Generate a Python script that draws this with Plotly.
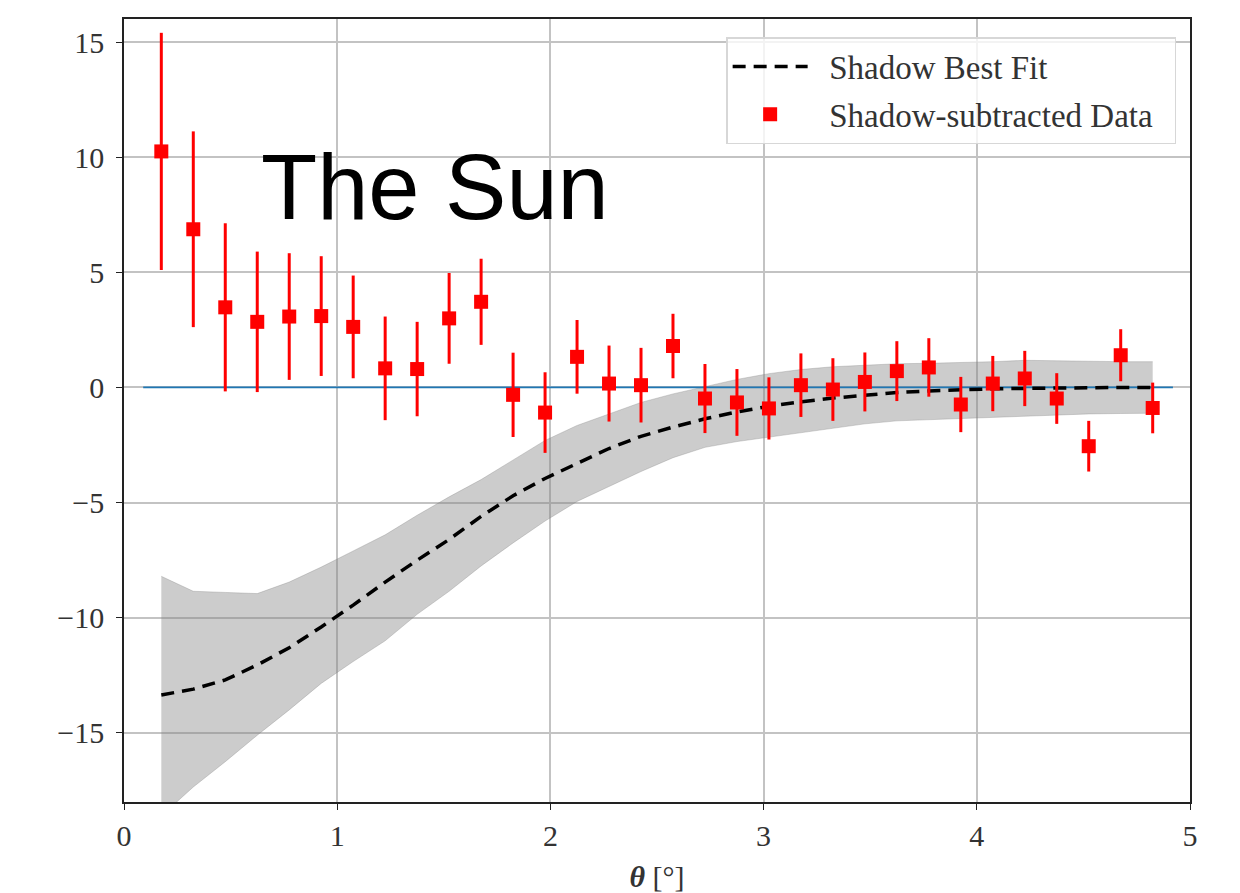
import plotly.graph_objects as go

# Bin centres (degrees)
theta = [0.175, 0.325, 0.475, 0.625, 0.775, 0.925, 1.075, 1.225, 1.375, 1.525,
         1.675, 1.825, 1.975, 2.125, 2.275, 2.425, 2.575, 2.725, 2.875, 3.025,
         3.175, 3.325, 3.475, 3.625, 3.775, 3.925, 4.075, 4.225, 4.375, 4.525,
         4.675, 4.825]

# Shadow-subtracted data and its uncertainty
data_y = [10.25, 6.87, 3.48, 2.85, 3.08, 3.1, 2.63, 0.83, 0.8, 3.0,
          3.72, -0.32, -1.09, 1.33, 0.17, 0.1, 1.8, -0.48, -0.65, -0.91,
          0.1, -0.09, 0.24, 0.71, 0.87, -0.74, 0.17, 0.39, -0.48, -2.55,
          1.4, -0.89]
data_err = [5.15, 4.25, 3.65, 3.05, 2.75, 2.6, 2.23, 2.25, 2.05, 1.97,
            1.87, 1.83, 1.75, 1.6, 1.65, 1.62, 1.4, 1.5, 1.45, 1.35,
            1.38, 1.36, 1.28, 1.3, 1.27, 1.2, 1.2, 1.2, 1.1, 1.1,
            1.13, 1.1]

# Best-fit shadow profile and its band
fit_y = [-13.35, -13.1, -12.7, -12.05, -11.3, -10.4, -9.45, -8.45, -7.5, -6.6,
         -5.6, -4.7, -3.95, -3.3, -2.65, -2.12, -1.72, -1.36, -1.06, -0.82,
         -0.62, -0.46, -0.33, -0.22, -0.15, -0.1, -0.06, -0.04, -0.02, -0.01,
         0.0, 0.0]
band_hi = [-8.2, -8.85, -8.9, -8.95, -8.45, -7.8, -7.1, -6.4, -5.55, -4.75,
           -4.0, -3.15, -2.3, -1.65, -1.15, -0.65, -0.28, 0.05, 0.35, 0.6,
           0.78, 0.9, 0.97, 1.03, 1.05, 1.08, 1.12, 1.18, 1.15, 1.12,
           1.12, 1.12]
band_lo = [-18.6, -17.35, -16.25, -15.1, -14.0, -12.85, -11.9, -11.0, -9.85, -8.85,
           -7.75, -6.75, -5.8, -4.95, -4.3, -3.65, -3.05, -2.6, -2.35, -2.15,
           -1.95, -1.75, -1.58, -1.45, -1.4, -1.33, -1.28, -1.22, -1.17, -1.15,
           -1.13, -1.12]

# Zero reference line
zero_x = [0.09, 4.92]
zero_y = [0.0, 0.0]

x_ticks = [0, 1, 2, 3, 4, 5]
y_ticks = [-15, -10, -5, 0, 5, 10, 15]

serif = "Liberation Serif"
band_col = "rgba(128,128,128,0.4)"
lead = "\u00a0\u00a0"
trail = "\u00a0\u00a0"

fig = go.Figure()

fig.add_trace(go.Scatter(x=theta, y=band_lo, mode="lines",
                         line=dict(color=band_col, width=0.8),
                         showlegend=False, hoverinfo="skip"))
fig.add_trace(go.Scatter(x=theta, y=band_hi, mode="lines", fill="tonexty",
                         fillcolor=band_col,
                         line=dict(color=band_col, width=0.8),
                         showlegend=False, hoverinfo="skip"))

fig.add_trace(go.Scatter(x=zero_x, y=zero_y, mode="lines",
                         line=dict(color="#1f77b4", width=1.8),
                         showlegend=False))

fig.add_trace(go.Scatter(x=theta, y=fit_y, mode="lines",
                         name=lead + "Shadow Best Fit" + trail, legendgroup="fit",
                         line=dict(color="black", width=3.5, dash="13px,8px")))

fig.add_trace(go.Scatter(x=theta, y=data_y, mode="markers",
                         name=lead + "Shadow-subtracted Data" + trail,
                         legendgroup="data",
                         marker=dict(symbol="square", size=14, color="#ff0000"),
                         error_y=dict(type="data", array=data_err, visible=True,
                                      color="#ff0000", thickness=3, width=0)))

fig.add_annotation(text="The Sun", xref="paper", yref="paper",
                   x=0.127, y=0.786, xanchor="left", yanchor="middle",
                   showarrow=False,
                   font=dict(family="Liberation Sans", size=92, color="black"))

axis_common = dict(showline=True, linecolor="#222222", linewidth=1.5, mirror=True,
                   ticks="outside", ticklen=6, tickwidth=1.2, tickcolor="#222222",
                   showgrid=True, gridcolor="rgb(195,195,195)", gridwidth=1.5,
                   zeroline=False, automargin=False,
                   tickfont=dict(family=serif, size=30, color="#333333"))

fig.update_xaxes(range=[0, 5], tickvals=x_ticks,
                 title=dict(text="<b><i>θ</i></b> [°]", standoff=15,
                            font=dict(family=serif, size=30, color="#333333")),
                 **axis_common)
fig.update_yaxes(range=[-18, 16], tickvals=y_ticks, ticklabelstandoff=6,
                 **axis_common)

fig.update_layout(
    width=1240, height=893,
    margin=dict(l=124, r=50, t=19, b=91, autoexpand=False),
    plot_bgcolor="white", paper_bgcolor="white",
    legend=dict(x=0.987, y=0.977, xanchor="right", yanchor="top",
                traceorder="grouped", tracegroupgap=2,
                bgcolor="rgba(255,255,255,0.8)", bordercolor="rgb(215,215,215)",
                borderwidth=1.5, itemwidth=75,
                font=dict(family=serif, size=33, color="#333333")),
)

fig.write_html("out.html")
